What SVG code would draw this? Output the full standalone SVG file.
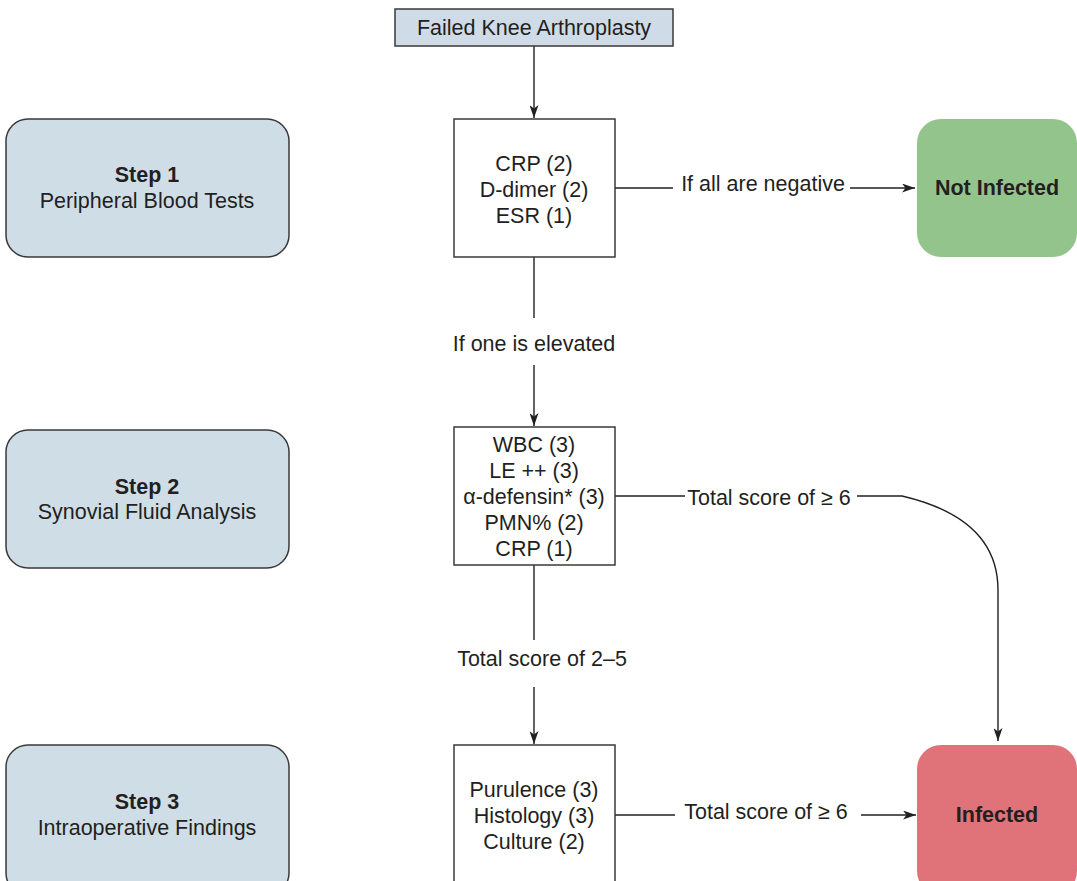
<svg xmlns="http://www.w3.org/2000/svg" width="1077" height="881" viewBox="0 0 1077 881">
  <defs>
    <marker id="arrow" viewBox="0 0 13 9" refX="13" refY="4.5" markerWidth="13" markerHeight="9" markerUnits="userSpaceOnUse" orient="auto">
      <path d="M0,0 L13,4.5 L0,9 L3.5,4.5 z" fill="#231f20"/>
    </marker>
    <style>
      text { font-family: "Liberation Sans", Arial, sans-serif; font-size: 21.5px; fill: #231f20; text-anchor: middle; }
      .bold { font-weight: bold; }
      .step { fill: #cfdee6; stroke: #3a3a3a; stroke-width: 1.5; }
      .score { fill: #ffffff; stroke: #3a3a3a; stroke-width: 1.5; }
      .start { fill: #cfdce7; stroke: #3a3a3a; stroke-width: 1.5; }
      .neg { fill: #93c48c; }
      .pos { fill: #e0727a; }
      .conn { fill: none; stroke: #231f20; stroke-width: 1.4; }
    </style>
  </defs>

  <rect width="1077" height="881" fill="#ffffff"/>

  <!-- connectors -->
  <g id="connectors">
    <line class="conn" x1="534" y1="46" x2="534" y2="118" marker-end="url(#arrow)"/>
    <line class="conn" x1="615" y1="188" x2="673" y2="188"/>
    <line class="conn" x1="850" y1="188" x2="915" y2="188" marker-end="url(#arrow)"/>
    <line class="conn" x1="534" y1="257" x2="534" y2="318"/>
    <line class="conn" x1="534" y1="365" x2="534" y2="426" marker-end="url(#arrow)"/>
    <line class="conn" x1="615" y1="496" x2="685" y2="496"/>
    <path class="conn" d="M857,496 L902,496 C962,510 998,540 998,590 L998,741" marker-end="url(#arrow)"/>
    <line class="conn" x1="534" y1="565" x2="534" y2="640"/>
    <line class="conn" x1="534" y1="687" x2="534" y2="744" marker-end="url(#arrow)"/>
    <line class="conn" x1="615" y1="815" x2="675" y2="815"/>
    <line class="conn" x1="861" y1="815" x2="916" y2="815" marker-end="url(#arrow)"/>
    <g id="connector-labels">
      <text x="763" y="191">If all are negative</text>
      <text x="534" y="351">If one is elevated</text>
      <text x="769" y="505">Total score of ≥ 6</text>
      <text x="542" y="666">Total score of 2–5</text>
      <text x="766" y="819">Total score of ≥ 6</text>
    </g>
  </g>

  <!-- start -->
  <g id="failed-knee">
    <rect class="start" x="395" y="9" width="278" height="37"/>
    <text x="534" y="35">Failed Knee Arthroplasty</text>
  </g>

  <!-- step labels -->
  <g id="step1">
    <rect class="step" x="6" y="119" width="283" height="138" rx="22"/>
    <text class="bold" x="147" y="182">Step 1</text>
    <text x="147" y="208">Peripheral Blood Tests</text>
  </g>
  <g id="step2">
    <rect class="step" x="6" y="430" width="283" height="138" rx="22"/>
    <text class="bold" x="147" y="494">Step 2</text>
    <text x="147" y="519">Synovial Fluid Analysis</text>
  </g>
  <g id="step3">
    <rect class="step" x="6" y="745" width="283" height="150" rx="22"/>
    <text class="bold" x="147" y="809">Step 3</text>
    <text x="147" y="835">Intraoperative Findings</text>
  </g>

  <!-- scoring boxes -->
  <g id="blood-tests">
    <rect class="score" x="454" y="119" width="161" height="138"/>
    <text x="534" y="171">CRP (2)</text>
    <text x="534" y="197">D-dimer (2)</text>
    <text x="534" y="223">ESR (1)</text>
  </g>
  <g id="synovial-tests">
    <rect class="score" x="454" y="427" width="161" height="138"/>
    <text x="534" y="452">WBC (3)</text>
    <text x="534" y="478">LE ++ (3)</text>
    <text x="534" y="504">α-defensin* (3)</text>
    <text x="534" y="530">PMN% (2)</text>
    <text x="534" y="556">CRP (1)</text>
  </g>
  <g id="intraop-findings">
    <rect class="score" x="454" y="745" width="161" height="150"/>
    <text x="534" y="797">Purulence (3)</text>
    <text x="534" y="823">Histology (3)</text>
    <text x="534" y="849">Culture (2)</text>
  </g>

  <!-- outcomes -->
  <g id="not-infected">
    <rect class="neg" x="917" y="119" width="160" height="138" rx="24"/>
    <text class="bold" x="997" y="195">Not Infected</text>
  </g>
  <g id="infected">
    <rect class="pos" x="917" y="745" width="160" height="150" rx="24"/>
    <text class="bold" x="997" y="822">Infected</text>
  </g>
</svg>
